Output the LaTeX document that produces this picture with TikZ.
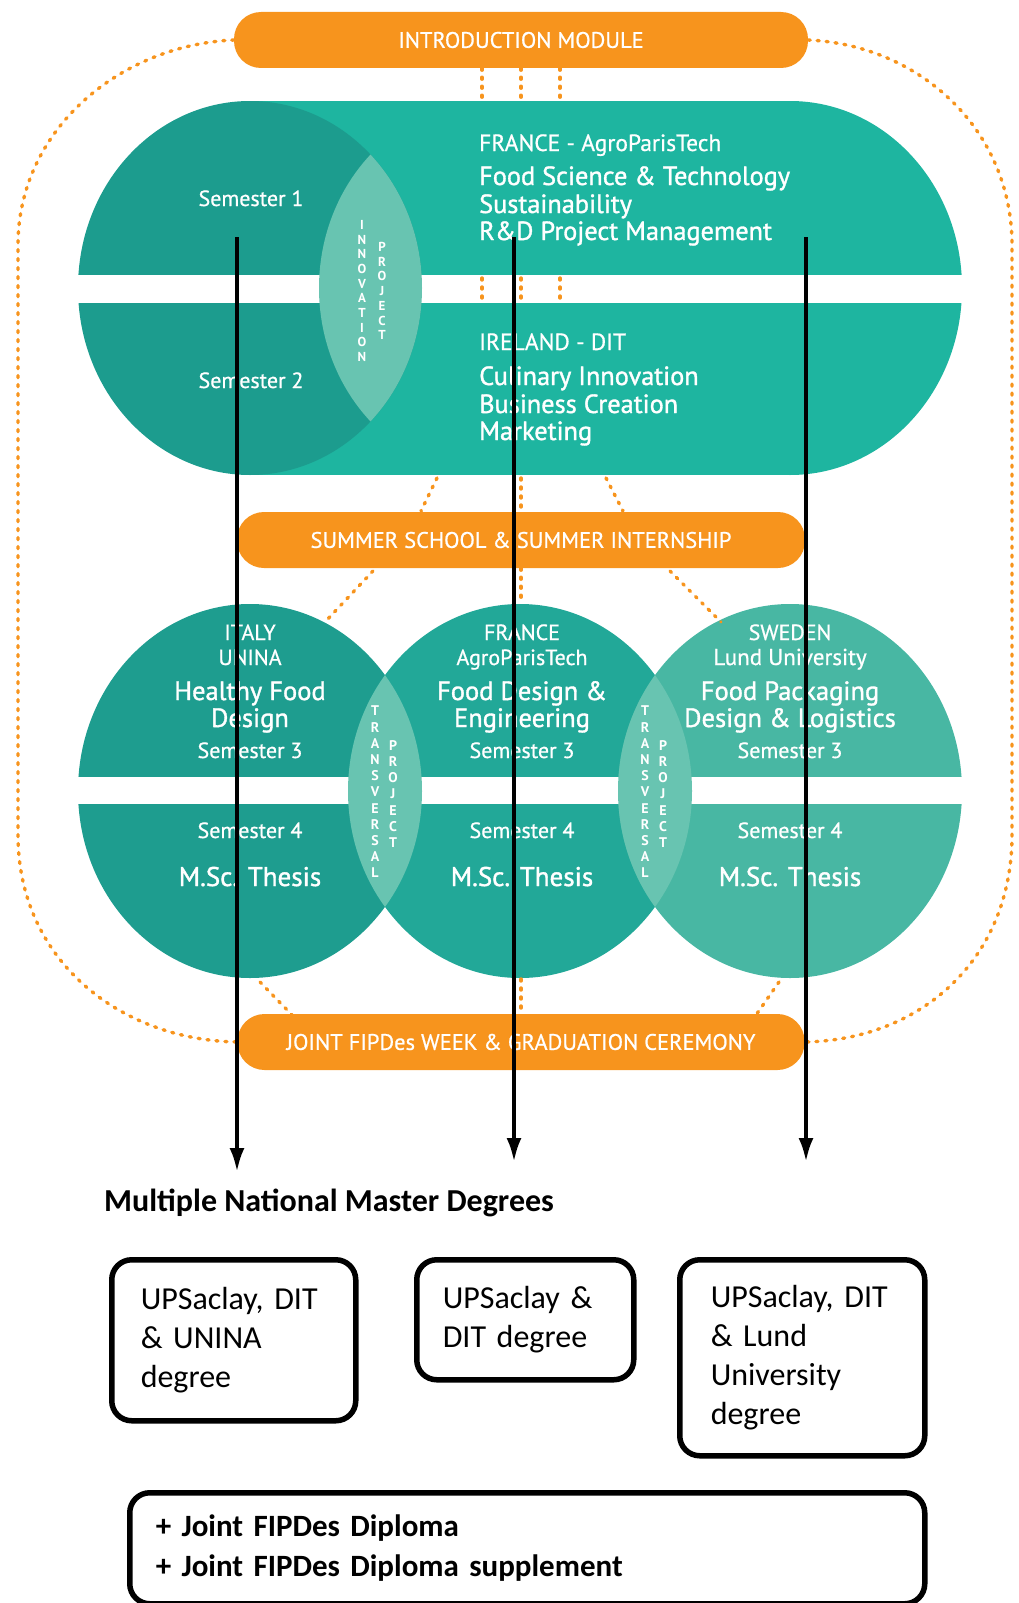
\documentclass[tikz,border=0pt]{standalone}
\usepackage{fontspec}
\setmainfont{PT Sans}
\newfontfamily\ptmed{PT Sans}[FakeBold=1.3]
\newfontfamily\ptsemi{PT Sans}[FakeBold=0.7]
\newfontfamily\carlito{Carlito}
\usetikzlibrary{arrows.meta}
\definecolor{tealdark}{HTML}{1C9C8E}
\definecolor{tealmain}{HTML}{1EB5A0}
\definecolor{teallens}{HTML}{68C4B1}
\definecolor{tealit}{HTML}{1E9D8F}
\definecolor{tealfr}{HTML}{22A898}
\definecolor{tealse}{HTML}{48B7A3}
\definecolor{fiporange}{HTML}{F7941D}
\begin{document}
\begin{tikzpicture}[x=1pt,y=-1pt,
  pill/.style={fill=fiporange, rounded corners=27pt, minimum height=56pt, inner sep=0pt, text=white, font=\ptsemi\fontsize{22.5}{26}\selectfont},
  dots/.style={draw=fiporange, line width=3.4pt, line cap=round, dash pattern=on 2pt off 7pt},
  wsmall/.style={text=white, anchor=base, inner sep=0pt, font=\ptsemi\fontsize{22}{26}\selectfont},
  wbig/.style={text=white, anchor=base, inner sep=0pt, font=\ptmed\fontsize{26.5}{30}\selectfont},
  wleft/.style={text=white, anchor=base west, inner sep=0pt},
  vletters/.style={text=white, align=center, inner sep=0pt, font=\bfseries\fontsize{13}{14.7}\selectfont},
  vletters2/.style={text=white, align=center, inner sep=0pt, font=\bfseries\fontsize{14}{16.2}\selectfont},
  arrowline/.style={line width=4pt, -{Latex[length=24pt,width=15pt]}},
  degbox/.style={draw=black, line width=5.5pt, rounded corners=20pt, anchor=north west, align=left, inner sep=0pt, font=\carlito\fontsize{32}{39}\selectfont}
]
\useasboundingbox (0,0) rectangle (1018,1603);

% ---------- top capsule ----------
\fill[tealmain] (250,101) rectangle (790,475);
\fill[tealmain] (790,288) ellipse [x radius=172pt, y radius=187pt];
\fill[tealdark] (250,288) ellipse [x radius=172pt, y radius=187pt];
\fill[white] (60,275) rectangle (975,303);
\begin{scope}
  \clip (250,288) ellipse [x radius=172pt, y radius=187pt];
  \fill[teallens] (491,288) ellipse [x radius=172pt, y radius=187pt];
\end{scope}

% ---------- bottom circles ----------
\fill[tealit] (250,791) ellipse [x radius=172pt, y radius=187pt];
\fill[tealfr] (520,791) ellipse [x radius=172pt, y radius=187pt];
\fill[tealse] (790,791) ellipse [x radius=172pt, y radius=187pt];
\fill[white] (60,777) rectangle (975,804);
\begin{scope}
  \clip (250,791) ellipse [x radius=172pt, y radius=187pt];
  \fill[teallens] (520,791) ellipse [x radius=172pt, y radius=187pt];
\end{scope}
\begin{scope}
  \clip (520,791) ellipse [x radius=172pt, y radius=187pt];
  \fill[teallens] (790,791) ellipse [x radius=172pt, y radius=187pt];
\end{scope}

% ---------- orange pills ----------
\node[pill, minimum width=574pt] (intro) at (521,40) {INTRODUCTION MODULE};
\node[pill, minimum width=568pt] (summer) at (521,540) {SUMMER SCHOOL \& SUMMER INTERNSHIP};
\node[pill, minimum width=567pt] (grad) at (521,1042) {JOINT FIPDes WEEK \& GRADUATION CEREMONY};

% ---------- dotted connectors ----------
\coordinate (capTopA) at (482,102);
\coordinate (capTopB) at (521,102);
\coordinate (capTopC) at (560,102);
\draw[dots] (intro.south -| capTopA) -- (capTopA);
\draw[dots] (intro.south -| capTopB) -- (capTopB);
\draw[dots] (intro.south -| capTopC) -- (capTopC);
\draw[dots] (482,278) -- (482,302);
\draw[dots] (521,278) -- (521,302);
\draw[dots] (560,278) -- (560,302);
\coordinate (capBotA) at (437,478);
\coordinate (capBotB) at (521,478);
\coordinate (capBotC) at (606,478);
\draw[dots] (capBotA) -- (421,511);
\draw[dots] (capBotB) -- (summer.north);
\draw[dots] (capBotC) -- (623,511);
\coordinate (itTop) at (325,622);
\coordinate (frTop) at (521,604);
\coordinate (seTop) at (721,622);
\draw[dots] (373,571) -- (itTop);
\draw[dots] (summer.south) -- (frTop);
\draw[dots] (670,571) -- (seTop);
\coordinate (itBot) at (260,982);
\coordinate (frBot) at (521,979);
\coordinate (seBot) at (779,982);
\draw[dots] (itBot) -- (292,1015);
\draw[dots] (frBot) -- (grad.north);
\draw[dots] (seBot) -- (756,1015);
% outer loop
\draw[dots] (intro.west) .. controls (120,45) and (18,130) .. (18,245) -- (18,835) .. controls (18,960) and (120,1040) .. (grad.west);
\draw[dots] (intro.east) .. controls (920,45) and (1012,130) .. (1012,245) -- (1012,835) .. controls (1012,960) and (920,1040) .. (grad.east);

% ---------- texts top capsule ----------
\node[wsmall] (sem1) at (251,206) {Semester 1};
\node[wsmall] (sem2) at (251,388) {Semester 2};
\node[wleft, font=\ptsemi\fontsize{23.5}{26}\selectfont] (fr1) at (479,151) {FRANCE - AgroParisTech};
\node[wleft, font=\ptmed\fontsize{26.3}{29}\selectfont] (fr2) at (479,185) {Food Science \& Technology};
\node[wleft, font=\ptmed\fontsize{26.3}{29}\selectfont] (fr3) at (479,213) {Sustainability};
\node[wleft, font=\ptmed\fontsize{26.3}{29}\selectfont] (fr4) at (479,240) {R\&D Project Management};
\node[wleft, font=\ptsemi\fontsize{23.5}{26}\selectfont] (ie1) at (479,350) {IRELAND - DIT};
\node[wleft, font=\ptmed\fontsize{26.3}{29}\selectfont] (ie2) at (479,385) {Culinary Innovation};
\node[wleft, font=\ptmed\fontsize{26.3}{29}\selectfont] (ie3) at (479,413) {Business Creation};
\node[wleft, font=\ptmed\fontsize{26.3}{29}\selectfont] (ie4) at (479,440) {Marketing};
\node[vletters] (innov) at (362,291) {I\\N\\N\\O\\V\\A\\T\\I\\O\\N};
\node[vletters] (proj1) at (382,291) {P\\R\\O\\J\\E\\C\\T};

% ---------- texts bottom circles ----------
\node[wsmall] (it1) at (250,640) {ITALY};
\node[wsmall] (it2) at (250,665) {UNINA};
\node[wbig] (it3) at (250,700) {Healthy Food};
\node[wbig] (it4) at (250,727) {Design};
\node[wsmall] (it5) at (250,758) {Semester 3};
\node[wsmall] (it6) at (250,838) {Semester 4};
\node[wbig, font=\ptmed\fontsize{27}{30}\selectfont] (it7) at (250,886) {M.Sc. Thesis};

\node[wsmall] (fb1) at (522,640) {FRANCE};
\node[wsmall] (fb2) at (522,665) {AgroParisTech};
\node[wbig] (fb3) at (522,700) {Food Design \&};
\node[wbig] (fb4) at (522,727) {Engineering};
\node[wsmall] (fb5) at (522,758) {Semester 3};
\node[wsmall] (fb6) at (522,838) {Semester 4};
\node[wbig, font=\ptmed\fontsize{27}{30}\selectfont] (fb7) at (522,886) {M.Sc. Thesis};

\node[wsmall] (se1) at (790,640) {SWEDEN};
\node[wsmall, font=\ptsemi\fontsize{23}{26}\selectfont] (se2) at (790,665) {Lund University};
\node[wbig] (se3) at (790,700) {Food Packaging};
\node[wbig] (se4) at (790,727) {Design \& Logistics};
\node[wsmall] (se5) at (790,758) {Semester 3};
\node[wsmall] (se6) at (790,838) {Semester 4};
\node[wbig, font=\ptmed\fontsize{27}{30}\selectfont] (se7) at (790,886) {M.Sc. Thesis};

\node[vletters2] (tr1) at (375,792) {T\\R\\A\\N\\S\\V\\E\\R\\S\\A\\L};
\node[vletters2] (pr1) at (393,794) {P\\R\\O\\J\\E\\C\\T};
\node[vletters2] (tr2) at (645,792) {T\\R\\A\\N\\S\\V\\E\\R\\S\\A\\L};
\node[vletters2] (pr2) at (663,794) {P\\R\\O\\J\\E\\C\\T};

% ---------- black arrows ----------
\coordinate (s1) at (237,237);
\coordinate (s2) at (514,237);
\coordinate (s3) at (806,237);
\coordinate (t1) at (237,1172);
\coordinate (t2) at (514,1162);
\coordinate (t3) at (806,1162);
\draw[arrowline] (s1) -- (t1);
\draw[arrowline] (s2) -- (t2);
\draw[arrowline] (s3) -- (t3);

% ---------- degrees ----------
\node[anchor=base west, inner sep=0pt, font=\carlito\bfseries\fontsize{32}{36}\selectfont] (mnmd) at (104,1211) {Multiple National Master Degrees};
\node[degbox, minimum width=244pt, minimum height=161pt, text width=186pt] (d1) at (109,1257) {UPSaclay, DIT\\\& UNINA\\degree};
\node[degbox, minimum width=217pt, minimum height=120pt, text width=165pt] (d2) at (414,1257) {UPSaclay \&\\DIT degree};
\node[degbox, minimum width=245pt, minimum height=196pt, text width=183pt] (d3) at (677,1257) {UPSaclay, DIT\\\& Lund\\University\\degree};
\node[degbox, minimum width=795pt, minimum height=111pt, text width=743pt, font=\carlito\bfseries\fontsize{31}{40}\selectfont] (d4) at (127,1490) {+ Joint FIPDes Diploma\\+ Joint FIPDes Diploma supplement};
\end{tikzpicture}
\end{document}
